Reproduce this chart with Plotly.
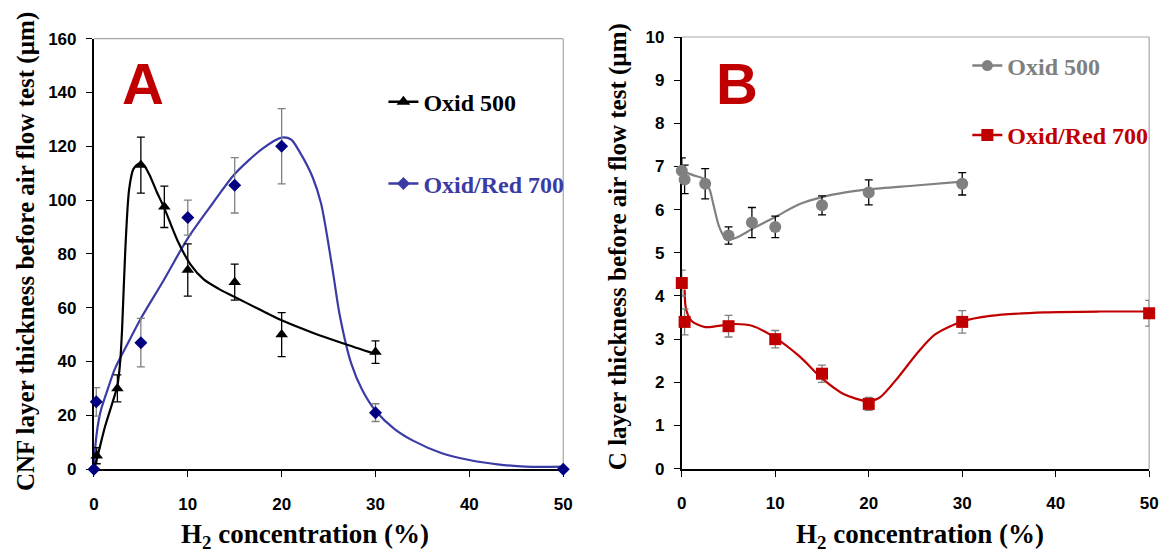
import plotly.graph_objects as go

# ---------------- Panel A data (CNF layer thickness) ----------------
a500_x = [0.3, 2.5, 5, 7.5, 10, 15, 20, 30]
a500_y = [5, 30, 113, 97.5, 74, 69.5, 50, 43.5]
a500_err = [3, 5, 10.4, 7.7, 9.7, 6.7, 8.2, 4.2]

a700_x = [0, 0.25, 5, 10, 15, 20, 30, 50]
a700_y = [0, 25, 47, 93.5, 105.5, 120, 21, 0]
a700_err = [0, 5.3, 9, 6.5, 10.3, 14, 3.3, 0]

# smoothed trend curves
a500_cx = [0, 0.4, 1.2, 2.0, 2.5, 2.8, 3.0, 3.35, 3.75, 4.2, 4.8, 5.3, 5.9, 6.7, 7.5,
           8.9, 10.3, 11.7, 13.3, 15, 17.5, 20, 23.3, 26.5, 30]
a500_cy = [0, 5, 16, 25, 31, 40, 52, 82, 104, 111.5, 113.5, 113, 109.5, 103, 97,
           85, 76, 70.5, 67, 64, 59.6, 55.3, 50.7, 46.8, 42.8]

a700_cx = [0, 0.1, 0.25, 0.5, 0.8, 1.5, 2.2, 3.5, 5, 7.45, 10, 12.7, 15, 18, 20, 21,
           21.9, 23.3, 24.2, 25.4, 26.2, 27.4, 28.6, 30, 32, 34.1, 37, 40, 43, 46, 50]
a700_cy = [0, 6, 12, 18, 22.6, 30, 37, 46, 56, 70.3, 85.8, 99, 109.7, 119.2, 123.2, 122.5,
           118, 108.5, 98.7, 74.7, 57, 39.4, 29.3, 21.7, 15, 10.4, 6, 3.4, 1.8, 0.9, 0.9]

# ---------------- Panel B data (C layer thickness) ----------------
b500_x = [0, 0.3, 2.5, 5, 7.5, 10, 15, 20, 30]
b500_y = [6.9, 6.7, 6.6, 5.4, 5.7, 5.6, 6.1, 6.4, 6.6]
b500_err = [0.3, 0.33, 0.35, 0.2, 0.35, 0.25, 0.22, 0.29, 0.26]

b700_x = [0, 0.3, 5, 10, 15, 20, 30, 50]
b700_y = [4.3, 3.4, 3.3, 3.0, 2.2, 1.5, 3.4, 3.6]
b700_err = [0.3, 0.3, 0.25, 0.2, 0.2, 0.15, 0.26, 0.3]

b500_cx = [0, 1.2, 2.46, 3.0, 3.4, 4.0, 4.6, 5.3, 6.3, 7.5, 10, 12.5, 15, 17.5, 20, 25, 30]
b500_cy = [6.9, 6.8, 6.7, 6.45, 6.1, 5.6, 5.36, 5.32, 5.4, 5.55, 5.83, 6.12, 6.29, 6.4, 6.47, 6.56, 6.65]

b700_cx = [0.3, 0.45, 1.05, 2.5, 3.7, 5.5, 7.5, 10, 12.6, 15, 17.3, 20, 21.2, 23.2, 25.2,
           27.1, 30, 33, 38.8, 44.7, 50]
b700_cy = [4.15, 3.7, 3.42, 3.28, 3.3, 3.35, 3.31, 3.03, 2.6, 2.09, 1.73, 1.56, 1.65, 2.13, 2.68,
           3.11, 3.41, 3.54, 3.62, 3.64, 3.64]

x_ticks = [0, 10, 20, 30, 40, 50]
series_names = ["Oxid 500", "Oxid/Red 700"]

BLACK = "#000000"
NAVY = "#000080"
BLUE = "#3b3ba6"
GREY = "#808080"
RED = "#c00000"
ERRGREY = "#808080"

W, H = 1170, 553

fig = go.Figure()

def curve(x, y, color, xa, ya):
    fig.add_trace(go.Scatter(x=x, y=y, mode="lines", xaxis=xa, yaxis=ya,
                             line=dict(color=color, width=2.2, shape="spline", smoothing=0.8),
                             showlegend=False, hoverinfo="skip"))

def pts(x, y, err, color, ecolor, symbol, size, xa, ya):
    fig.add_trace(go.Scatter(x=x, y=y, mode="markers", xaxis=xa, yaxis=ya,
                             marker=dict(color=color, symbol=symbol, size=size),
                             error_y=dict(type="data", array=err, color=ecolor, thickness=1.3, width=4),
                             cliponaxis=False, showlegend=False))

def legend_item(name, color, symbol, size, xa, ya, legend):
    fig.add_trace(go.Scatter(x=[None], y=[None], mode="lines+markers", name=name,
                             xaxis=xa, yaxis=ya, legend=legend,
                             line=dict(color=color, width=2.5),
                             marker=dict(color=color, symbol=symbol, size=size)))

# Panel A
curve(a700_cx, a700_cy, BLUE, "x", "y")
curve(a500_cx, a500_cy, BLACK, "x", "y")
pts(a700_x, a700_y, a700_err, NAVY, ERRGREY, "diamond", 10, "x", "y")
pts(a500_x, a500_y, a500_err, BLACK, BLACK, "triangle-up", 11, "x", "y")
legend_item(series_names[0], BLACK, "triangle-up", 12, "x", "y", "legend")
legend_item(series_names[1], BLUE, "diamond", 10, "x", "y", "legend2")

# Panel B
curve(b500_cx, b500_cy, GREY, "x2", "y2")
curve(b700_cx, b700_cy, RED, "x2", "y2")
pts(b500_x, b500_y, b500_err, GREY, BLACK, "circle", 12, "x2", "y2")
pts(b700_x, b700_y, b700_err, RED, ERRGREY, "square", 12, "x2", "y2")
legend_item(series_names[0], GREY, "circle", 11, "x2", "y2", "legend3")
legend_item(series_names[1], RED, "square", 12, "x2", "y2", "legend4")

def px_x(p):
    return p / W

def px_y(p):
    return 1 - p / H

tickfont = dict(family="Liberation Sans, Arial, sans-serif", size=17, color="black", weight="bold")
axis_common = dict(showgrid=False, zeroline=False, showline=True, linecolor="black", linewidth=2,
                   ticks="outside", ticklen=6, tickwidth=1.3, tickcolor="black",
                   tickfont=tickfont, layer="below traces", fixedrange=True)

fig.update_layout(
    width=W, height=H, margin=dict(l=0, r=0, t=0, b=0),
    paper_bgcolor="white", plot_bgcolor="white",
    xaxis=dict(domain=[px_x(90), px_x(565)], range=[0, 50], tickvals=x_ticks,
               anchor="y", ticklabelstandoff=12, **axis_common),
    yaxis=dict(domain=[px_y(476.5), px_y(30.7)], range=[0, 160], dtick=20,
               anchor="x", ticklabelstandoff=6, **axis_common),
    xaxis2=dict(domain=[px_x(685), px_x(1158)], range=[0, 50], tickvals=x_ticks,
                anchor="y2", ticklabelstandoff=12, **axis_common),
    yaxis2=dict(domain=[px_y(476), px_y(29)], range=[0, 10], dtick=1,
                anchor="x2", ticklabelstandoff=6, **axis_common),
)

legfont = dict(family="Liberation Serif, Times New Roman, serif", size=24, weight="bold")
def leg(x, y, color):
    return dict(x=px_x(x), y=px_y(y), xanchor="left", yanchor="middle",
                bgcolor="rgba(0,0,0,0)", borderwidth=0,
                font=dict(color=color, **legfont))

fig.update_layout(
    legend=leg(383, 96.5, BLACK),
    legend2=leg(383, 181, BLUE),
    legend3=leg(974, 59, GREY),
    legend4=leg(974, 131, RED),
)

# grey top/right frame
for xr, yr in (("x domain", "y domain"), ("x2 domain", "y2 domain")):
    fig.add_shape(type="line", xref=xr, yref=yr, x0=0, x1=1, y0=1, y1=1,
                  line=dict(color="#a6a6a6", width=1.2), layer="below")
    fig.add_shape(type="line", xref=xr, yref=yr, x0=1, x1=1, y0=0, y1=1,
                  line=dict(color="#a6a6a6", width=1.2), layer="below")

titlefont = dict(family="Liberation Serif, Times New Roman, serif", color="black", weight="bold")
annos = [
    dict(text="A", x=px_x(140), y=px_y(77), font=dict(family="Liberation Sans, Arial", size=58,
                                                    color=RED, weight="bold")),
    dict(text="B", x=px_x(741), y=px_y(77), font=dict(family="Liberation Sans, Arial", size=58,
                                                    color=RED, weight="bold")),
    dict(text="H<sub>2</sub> concentration (%)", x=px_x(304), y=px_y(546),
         font=dict(size=27, **titlefont)),
    dict(text="H<sub>2</sub> concentration (%)", x=px_x(926), y=px_y(546),
         font=dict(size=27, **titlefont)),
    dict(text="CNF layer thickness before air flow test (µm)", x=px_x(22), y=px_y(251),
         textangle=-90, font=dict(size=25, **titlefont)),
    dict(text="C layer thickness before air flow test (µm)", x=px_x(620), y=px_y(246),
         textangle=-90, font=dict(size=25, **titlefont)),
]
for a in annos:
    fig.add_annotation(xref="paper", yref="paper", showarrow=False,
                       xanchor="center", yanchor="middle", **a)

fig.write_html("out.html")
